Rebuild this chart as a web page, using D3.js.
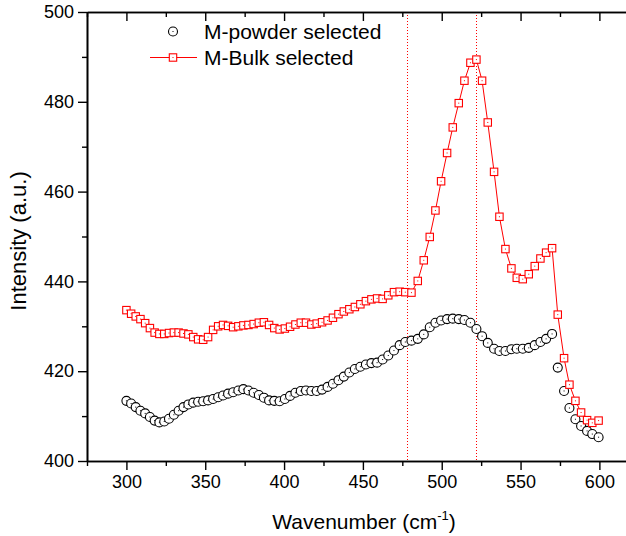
<!DOCTYPE html>
<html><head><meta charset="utf-8">
<script src="https://cdn.jsdelivr.net/npm/d3@7"></script>
<style>html,body{margin:0;padding:0;background:#fff;overflow:hidden}</style>
</head><body>
<svg id="c" width="626" height="536"></svg>
<script>
const wavenumber = [300.0,303.0,305.9,308.9,311.9,314.9,317.9,320.9,324.0,327.0,330.1,333.1,336.2,339.3,342.4,345.5,348.7,351.8,355.0,358.2,361.3,364.5,367.7,371.0,374.2,377.4,380.7,384.0,387.2,390.5,393.8,397.2,400.5,403.8,407.2,410.6,413.9,417.3,420.7,424.1,427.6,431.0,434.5,437.9,441.4,444.9,448.4,451.9,455.4,459.0,462.5,466.1,469.7,473.3,476.9,480.8,484.8,488.6,492.4,496.0,499.6,503.4,507.0,510.8,514.4,518.2,522.0,525.6,529.2,533.2,536.6,540.4,544.2,547.6,551.4,555.2,559.0,562.6,566.2,570.0,573.6,577.6,581.0,584.8,588.4,592.2,595.5,599.5];
const powder = [413.4,412.8,412.0,411.2,410.6,409.8,409.0,408.6,408.8,409.4,410.3,411.2,412.0,412.6,413.0,413.2,413.3,413.5,413.8,414.2,414.6,415.0,415.3,415.7,416.0,415.7,415.2,414.7,414.1,413.5,413.4,413.3,413.8,414.5,415.2,415.6,415.7,415.6,415.6,415.9,416.5,417.2,418.0,418.8,419.7,420.5,421.0,421.5,421.8,421.9,422.6,423.5,424.6,425.8,426.5,426.8,427.2,428.2,429.8,430.8,431.3,431.6,431.7,431.6,431.4,430.8,429.4,427.8,426.3,425.0,424.5,424.5,424.9,425.0,425.0,425.2,425.8,426.5,427.2,428.3,420.8,415.6,411.8,409.3,407.8,406.7,406.0,405.3];
const bulk = [433.6,432.8,432.2,431.6,430.7,429.6,428.6,428.3,428.3,428.5,428.6,428.6,428.4,428.2,427.6,427.1,427.0,427.6,429.2,430.0,430.3,430.1,429.8,430.0,430.2,430.3,430.5,430.8,430.9,430.3,429.6,429.3,429.5,429.9,430.4,430.8,430.8,430.4,430.6,430.9,431.3,431.9,432.7,433.3,433.8,434.3,434.9,435.6,436.0,436.2,436.1,436.9,437.6,437.7,437.6,437.5,440.1,444.7,449.9,455.8,462.3,468.6,474.3,479.7,484.7,488.7,489.4,484.7,475.4,464.4,454.4,447.2,442.9,440.8,440.5,441.6,443.4,445.1,446.4,447.4,432.6,422.9,417.0,413.4,410.8,409.1,408.5,409.0];
const xMajorTicks = [300,350,400,450,500,550,600];
const xMinorTicks = [275,325,375,425,475,525,575,625];
const yMajorTicks = [400,420,440,460,480,500];
const yMinorTicks = [410,430,450,470,490];
const markerLines = [478,522];
const seriesNames = ["M-powder selected","M-Bulk selected"];

const svg = d3.select("#c");
const x = d3.scaleLinear().domain([275,625]).range([87,638.8]);
const y = d3.scaleLinear().domain([400,500]).range([461,12]);
const font = "Arial, 'Liberation Sans', sans-serif";

// dotted reference lines
svg.selectAll("line.ref").data(markerLines).enter().append("line")
  .attr("x1",d=>Math.round(x(d))+0.5).attr("x2",d=>Math.round(x(d))+0.5)
  .attr("y1",y(500)).attr("y2",y(400))
  .attr("stroke","#ff0000").attr("stroke-width",1).attr("stroke-dasharray","1,2")
  .attr("shape-rendering","crispEdges");

// axes
function styleAxis(g){g.selectAll("path,line").attr("stroke","#000").attr("stroke-width",1.4);}
const bottomMajor = d3.axisBottom(x).tickValues(xMajorTicks).tickSize(9).tickSizeOuter(0).tickPadding(5);
const gb = svg.append("g").attr("transform",`translate(0,${y(400)})`).call(bottomMajor);
gb.selectAll("text").attr("font-family",font).attr("font-size",18).attr("fill","#000");
styleAxis(gb);
const gbm = svg.append("g").attr("transform",`translate(0,${y(400)})`).call(d3.axisBottom(x).tickValues(xMinorTicks).tickSize(5).tickSizeOuter(0).tickFormat(""));
styleAxis(gbm);
const gt = svg.append("g").attr("transform",`translate(0,${y(500)})`).call(d3.axisBottom(x).tickValues(xMajorTicks).tickSize(9).tickSizeOuter(0).tickFormat(""));
styleAxis(gt);
const gtm = svg.append("g").attr("transform",`translate(0,${y(500)})`).call(d3.axisBottom(x).tickValues(xMinorTicks).tickSize(5).tickSizeOuter(0).tickFormat(""));
styleAxis(gtm);
const gl = svg.append("g").attr("transform",`translate(${x(275)},0)`).call(d3.axisLeft(y).tickValues(yMajorTicks).tickSize(9).tickSizeOuter(0).tickPadding(4));
gl.selectAll("text").attr("font-family",font).attr("font-size",18).attr("fill","#000");
styleAxis(gl);
const glm = svg.append("g").attr("transform",`translate(${x(275)},0)`).call(d3.axisLeft(y).tickValues(yMinorTicks).tickSize(5).tickSizeOuter(0).tickFormat(""));
styleAxis(glm);
svg.selectAll(".domain").attr("stroke-width",1.6);

// axis titles
const xt = svg.append("text").attr("x",364).attr("y",529).attr("text-anchor","middle")
  .attr("font-family",font).attr("font-size",21).attr("fill","#000");
xt.append("tspan").text("Wavenumber (cm");
xt.append("tspan").attr("dy",-9).attr("font-size",13).text("-1");
xt.append("tspan").attr("dy",9).text(")");
svg.append("text").attr("transform","translate(26,241) rotate(-90)").attr("text-anchor","middle")
  .attr("font-family",font).attr("font-size",22).attr("fill","#000").text("Intensity (a.u.)");

const pts = wavenumber.map((w,i)=>({w,p:powder[i],b:bulk[i]}));

// powder: scatter circles
const gP = svg.append("g");
pts.forEach(d=>{
  gP.append("circle").attr("cx",x(d.w)).attr("cy",y(d.p)).attr("r",4.5)
    .attr("fill","#fff").attr("stroke","#000").attr("stroke-width",1.1);
  gP.append("rect").attr("x",x(d.w)-0.5).attr("y",y(d.p)-0.5).attr("width",1).attr("height",1).attr("fill","#000");
});

// bulk: line + squares
svg.append("path").datum(pts).attr("fill","none").attr("stroke","#f00").attr("stroke-width",1)
  .attr("d",d3.line().x(d=>x(d.w)).y(d=>y(d.b)));
const gB = svg.append("g");
pts.forEach(d=>{
  gB.append("rect").attr("x",x(d.w)-3.7).attr("y",y(d.b)-3.7).attr("width",7.4).attr("height",7.4)
    .attr("fill","#fff").attr("stroke","#f00").attr("stroke-width",1.1);
  gB.append("rect").attr("x",x(d.w)-0.5).attr("y",y(d.b)-0.5).attr("width",1).attr("height",1).attr("fill","#f00");
});

// legend
const lg = svg.append("g");
lg.append("circle").attr("cx",173).attr("cy",31.5).attr("r",4.5).attr("fill","#fff").attr("stroke","#000").attr("stroke-width",1.1);
lg.append("rect").attr("x",172.5).attr("y",31).attr("width",1).attr("height",1).attr("fill","#000");
lg.append("text").attr("x",204).attr("y",38.5).attr("font-family",font).attr("font-size",21).attr("fill","#000").text(seriesNames[0]);
lg.append("line").attr("x1",150).attr("x2",197).attr("y1",57.5).attr("y2",57.5).attr("stroke","#f00").attr("stroke-width",1);
lg.append("rect").attr("x",169.3).attr("y",53.8).attr("width",7.4).attr("height",7.4).attr("fill","#fff").attr("stroke","#f00").attr("stroke-width",1.1);
lg.append("rect").attr("x",172.5).attr("y",57).attr("width",1).attr("height",1).attr("fill","#f00");
lg.append("text").attr("x",204).attr("y",64.5).attr("font-family",font).attr("font-size",21).attr("fill","#000").text(seriesNames[1]);
</script>
</body></html>
